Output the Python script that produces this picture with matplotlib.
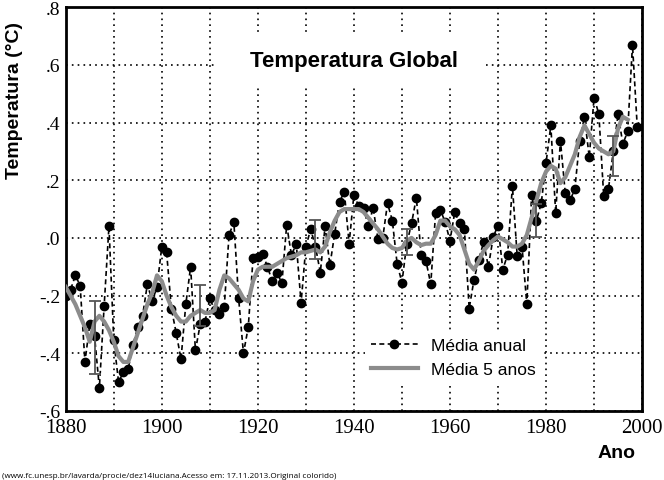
import numpy as np
import matplotlib
matplotlib.use("Agg")
import matplotlib.pyplot as plt
from matplotlib.patches import Rectangle

plt.rcParams["font.family"] = "serif"
plt.rcParams["font.serif"] = ["Liberation Serif", "DejaVu Serif"]

years = np.arange(1880, 2000)
anual = [
    -0.20, -0.18, -0.13, -0.165, -0.43, -0.30, -0.34, -0.52, -0.235, 0.04,
    -0.355, -0.50, -0.465, -0.455, -0.37, -0.31, -0.27, -0.16, -0.22, -0.17,
    -0.03, -0.05, -0.245, -0.33, -0.42, -0.23, -0.10, -0.39, -0.30, -0.29,
    -0.21, -0.25, -0.265, -0.24, 0.01, 0.055, -0.21, -0.40, -0.31, -0.07,
    -0.065, -0.055, -0.10, -0.15, -0.12, -0.157, 0.045, -0.06, -0.02, -0.225,
    -0.03, 0.03, -0.03, -0.12, 0.04, -0.095, 0.015, 0.125, 0.16, -0.02,
    0.15, 0.11, 0.105, 0.04, 0.105, -0.005, 0.0, 0.12, 0.06, -0.09,
    -0.155, -0.02, 0.05, 0.14, -0.06, -0.08, -0.16, 0.085, 0.097, 0.055,
    -0.01, 0.09, 0.05, 0.03, -0.245, -0.145, -0.075, -0.015, -0.10, 0.003,
    0.043, -0.11, -0.058, 0.18, -0.064, -0.03, -0.23, 0.15, 0.06, 0.12,
    0.26, 0.39, 0.087, 0.337, 0.156, 0.13, 0.17, 0.337, 0.42, 0.28,
    0.486, 0.43, 0.147, 0.17, 0.30, 0.43, 0.325, 0.37, 0.67, 0.383,
]

years5 = np.arange(1880, 1998)
media5 = [
    -0.17, -0.20, -0.23, -0.27, -0.31, -0.36, -0.29, -0.27, -0.29, -0.32,
    -0.36, -0.41, -0.43, -0.43, -0.38, -0.33, -0.28, -0.23, -0.19, -0.13,
    -0.15, -0.20, -0.24, -0.27, -0.29, -0.29, -0.27, -0.26, -0.25, -0.26,
    -0.26, -0.25, -0.18, -0.13, -0.14, -0.16, -0.18, -0.21, -0.22, -0.15,
    -0.11, -0.10, -0.10, -0.10, -0.09, -0.08, -0.07, -0.065, -0.06, -0.05,
    -0.05, -0.045, -0.04, -0.05, -0.03, 0.02, 0.06, 0.09, 0.10, 0.10,
    0.10, 0.10, 0.09, 0.07, 0.05, 0.03, 0.005, -0.02, -0.035, -0.04,
    -0.035, -0.01, 0.0, -0.015, -0.025, -0.02, -0.02, 0.01, 0.06, 0.06,
    0.04, 0.03, 0.01, -0.04, -0.09, -0.11, -0.08, -0.045, -0.025, -0.008,
    0.005, -0.005, -0.015, -0.03, -0.03, -0.02, 0.01, 0.07, 0.13, 0.19,
    0.23, 0.25, 0.24, 0.19, 0.21, 0.25, 0.29, 0.35, 0.39, 0.36,
    0.33, 0.31, 0.30, 0.29, 0.30, 0.38, 0.42, 0.41,
]

err_years = [1886, 1908, 1932, 1951, 1978, 1994]
err_centro = [-0.345, -0.234, -0.005, -0.015, 0.06, 0.285]
err_meio = [0.128, 0.071, 0.068, 0.045, 0.056, 0.069]

yticks = [-0.6, -0.4, -0.2, 0.0, 0.2, 0.4, 0.6, 0.8]
ytick_labels = ["-.6", "-.4", "-.2", ".0", ".2", ".4", ".6", ".8"]
xticks = [1880, 1900, 1920, 1940, 1960, 1980, 2000]

fig = plt.figure(figsize=(6.64, 4.81), dpi=100)
ax = fig.add_axes([0.099, 0.1435, 0.868, 0.8395])

ax.plot(years, anual, color="black", linestyle=(0, (3, 2)), lw=1.2,
        marker="o", markersize=6, label="Média anual", zorder=3)
ax.plot(years5, media5, color="#8c8c8c", lw=3, label="Média 5 anos", zorder=4)
ax.errorbar(err_years, err_centro, yerr=err_meio, fmt="none", ecolor="#555555",
            elinewidth=1.3, capsize=4, capthick=1.3, zorder=5)

ax.set_xlim(1880, 2000)
ax.set_ylim(-0.6, 0.8)
ax.set_xticks(xticks)
ax.set_xticks(np.arange(1890, 2000, 20), minor=True)
ax.set_yticks(yticks)
ax.set_yticklabels(ytick_labels)
ax.grid(True, which="both", color="black", linestyle=(0, (1, 2.5)), lw=1.2)
ax.tick_params(which="both", length=0)
ax.tick_params(axis="x", pad=5, labelsize=15)
ax.tick_params(axis="y", pad=4, labelsize=14)
for sp in ax.spines.values():
    sp.set_linewidth(2)
    sp.set_color("black")

# caixa branca do titulo por cima da grade
ax.add_patch(Rectangle((1911.4, 0.522), 55.2, 0.19, facecolor="white",
                       edgecolor="none", zorder=2))
ax.text(1940, 0.616, "Temperatura Global", fontfamily="Liberation Sans",
        fontweight="bold", fontsize=16, ha="center", va="center", zorder=6)

leg = ax.legend(loc="lower left", bbox_to_anchor=(0.505, 0.05), frameon=True,
                facecolor="white", edgecolor="none", framealpha=1,
                fancybox=False, handlelength=2.7,
                borderpad=0.3, labelspacing=0.5,
                prop={"family": "Liberation Sans", "size": 12.5})
leg.set_zorder(7)

fig.text(0.022, 0.792, "Temperatura (°C)", rotation=90, ha="center", va="center",
         fontfamily="Liberation Sans", fontweight="bold", fontsize=14)
fig.text(0.929, 0.058, "Ano", ha="center", va="center",
         fontfamily="Liberation Sans", fontweight="bold", fontsize=14)
fig.text(0.003, 0.003,
         "(www.fc.unesp.br/lavarda/procie/dez14luciana.Acesso em: 17.11.2013.Original colorido)",
         ha="left", va="bottom", fontfamily="Open Sans", fontsize=5.9)

fig.savefig("out.png", dpi=100)
